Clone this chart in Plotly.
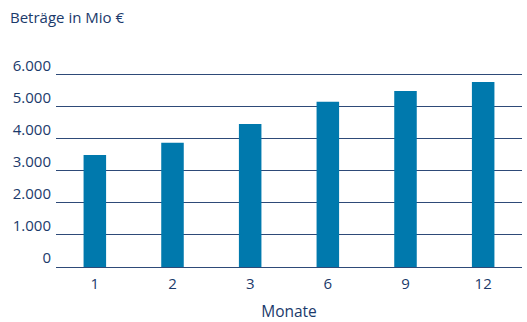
import plotly.graph_objects as go

months = ["1", "2", "3", "6", "9", "12"]
values = [3500, 3880, 4470, 5160, 5500, 5780]
y_ticks = [0, 1000, 2000, 3000, 4000, 5000, 6000]
y_tick_labels = ["0", "1.000", "2.000", "3.000", "4.000", "5.000", "6.000"]

navy = "#1b3a6b"
line_col = "#2e4a78"
bar_col = "#0079ad"
font = "Open Sans, Noto Sans, sans-serif"

fig = go.Figure(go.Bar(x=months, y=values, marker_color=bar_col, marker_line_width=0))

fig.update_layout(
    width=527, height=322,
    margin=dict(l=56, r=5, t=73, b=55, autoexpand=False),
    paper_bgcolor="white", plot_bgcolor="white",
    bargap=0.71,
    showlegend=False,
    font=dict(family=font, color=navy, size=15),
    title=dict(text="Beträge in Mio €", x=10/527, xref="container", xanchor="left",
               y=1 - 18/322, yref="container", yanchor="middle",
               font=dict(size=15, color=navy, family=font)),
)
fig.update_xaxes(type="category", showgrid=False, showline=False, zeroline=False,
                 automargin=False,
                 ticks="", tickfont=dict(size=15, color=navy), ticklabelstandoff=6,
                 title=dict(text="Monate", font=dict(size=15.5, color=navy), standoff=19))
fig.update_yaxes(range=[0, 6060], tickvals=y_ticks, ticktext=y_tick_labels,
                 automargin=False,
                 showgrid=True, gridcolor=line_col, gridwidth=1.2,
                 zeroline=True, zerolinecolor=line_col, zerolinewidth=1.2,
                 showline=False, ticks="", tickfont=dict(size=15, color=navy),
                 ticklabelshift=-9, ticklabelstandoff=4)

fig.write_html("out.html")
